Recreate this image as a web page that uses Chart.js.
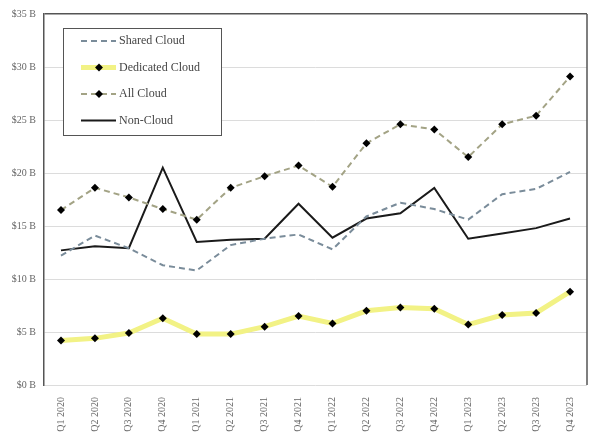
<!DOCTYPE html>
<html>
<head>
<meta charset="utf-8">
<script src="https://cdn.jsdelivr.net/npm/chart.js@4.4.0/dist/chart.umd.min.js"></script>
<style>
  html, body { margin: 0; padding: 0; background: #fff; }
  #wrap { width: 600px; height: 441px; position: relative; }
</style>
</head>
<body>
<div id="wrap"><canvas id="cloud-chart" width="600" height="441"></canvas></div>
<script>
var quarters = ['Q1 2020','Q2 2020','Q3 2020','Q4 2020','Q1 2021','Q2 2021','Q3 2021','Q4 2021',
                'Q1 2022','Q2 2022','Q3 2022','Q4 2022','Q1 2023','Q2 2023','Q3 2023','Q4 2023'];
var sharedCloud    = [12.2, 14.1, 12.9, 11.3, 10.8, 13.2, 13.8, 14.2, 12.8, 15.9, 17.2, 16.6, 15.6, 18.0, 18.5, 20.1];
var dedicatedCloud = [4.2, 4.4, 4.9, 6.3, 4.8, 4.8, 5.5, 6.5, 5.8, 7.0, 7.3, 7.2, 5.7, 6.6, 6.8, 8.8];
var allCloud       = [16.5, 18.6, 17.7, 16.6, 15.6, 18.6, 19.7, 20.7, 18.7, 22.8, 24.6, 24.1, 21.5, 24.6, 25.4, 29.1];
var nonCloud       = [12.7, 13.1, 12.9, 20.5, 13.5, 13.7, 13.8, 17.1, 13.9, 15.7, 16.2, 18.6, 13.8, 14.3, 14.8, 15.7];

var serif = "'Liberation Serif', 'DejaVu Serif', serif";

// legend box drawn inside the plot, plus right border line
var boxLegend = {
  id: 'boxLegend',
  afterDraw(chart) {
    var ctx = chart.ctx, ca = chart.chartArea;
    ctx.save();
    ctx.strokeStyle = '#555';
    ctx.lineWidth = 1.5;
    ctx.beginPath();
    ctx.moveTo(ca.right, ca.top);
    ctx.lineTo(ca.right, ca.bottom);
    ctx.stroke();

    var x0 = 63, y0 = 28, w = 158, h = 107;
    ctx.fillStyle = '#fff';
    ctx.fillRect(x0, y0, w, h);
    ctx.strokeStyle = '#555';
    ctx.lineWidth = 1;
    ctx.strokeRect(x0 + 0.5, y0 + 0.5, w, h);

    chart.data.datasets.forEach(function (ds, i) {
      var y = y0 + 13 + i * 26.5;
      ctx.save();
      ctx.strokeStyle = ds.borderColor;
      ctx.lineWidth = ds.borderWidth;
      ctx.setLineDash(ds.borderDash || []);
      ctx.beginPath();
      ctx.moveTo(x0 + 18, y);
      ctx.lineTo(x0 + 53, y);
      ctx.stroke();
      ctx.restore();
      if (ds.pointRadius > 0) {
        ctx.save();
        ctx.fillStyle = '#000';
        ctx.translate(x0 + 36, y);
        ctx.rotate(Math.PI / 4);
        ctx.fillRect(-2.8, -2.8, 5.6, 5.6);
        ctx.restore();
      }
      ctx.fillStyle = '#444';
      ctx.font = '12px ' + serif;
      ctx.textBaseline = 'middle';
      ctx.fillText(ds.label, x0 + 56, y);
    });
    ctx.restore();
  }
};

new Chart('cloud-chart', {
  type: 'line',
  data: {
    labels: quarters,
    datasets: [
      {
        label: 'Shared Cloud',
        data: sharedCloud,
        borderColor: '#7a8c9a',
        borderWidth: 2,
        borderDash: [6, 4],
        pointRadius: 0,
        tension: 0
      },
      {
        label: 'Dedicated Cloud',
        data: dedicatedCloud,
        borderColor: '#f2f285',
        borderWidth: 5,
        pointStyle: 'rectRot',
        pointRadius: 4,
        pointBackgroundColor: '#000',
        pointBorderColor: '#000',
        pointBorderWidth: 0,
        tension: 0
      },
      {
        label: 'All Cloud',
        data: allCloud,
        borderColor: '#a3a385',
        borderWidth: 2,
        borderDash: [6, 4],
        pointStyle: 'rectRot',
        pointRadius: 4,
        pointBackgroundColor: '#000',
        pointBorderColor: '#000',
        pointBorderWidth: 0,
        tension: 0
      },
      {
        label: 'Non-Cloud',
        data: nonCloud,
        borderColor: '#1a1a1a',
        borderWidth: 2,
        pointRadius: 0,
        tension: 0
      }
    ]
  },
  options: {
    responsive: false,
    animation: false,
    layout: { padding: { top: 6, right: 13, left: 0, bottom: 0 } },
    plugins: {
      legend: { display: false },
      tooltip: { enabled: false }
    },
    scales: {
      x: {
        offset: true,
        grid: { display: false },
        border: { display: false },
        ticks: {
          minRotation: 90,
          maxRotation: 90,
          color: '#666',
          font: { family: serif, size: 10 },
          padding: 4
        },
        afterFit(scale) { scale.height = 56; }
      },
      y: {
        min: 0,
        max: 35,
        grid: {
          color: function (c) { return c.tick.value === 35 ? '#555' : '#dcdcdc'; },
          lineWidth: function (c) { return c.tick.value === 35 ? 1.5 : 1; },
          drawTicks: false
        },
        border: { display: true, color: '#555', width: 1.5 },
        ticks: {
          stepSize: 5,
          color: '#666',
          padding: 8,
          font: { family: serif, size: 10 },
          callback: function (v) { return '$' + v + ' B'; }
        },
        afterFit(scale) { scale.width = 44; }
      }
    }
  },
  plugins: [boxLegend]
});
</script>
</body>
</html>
